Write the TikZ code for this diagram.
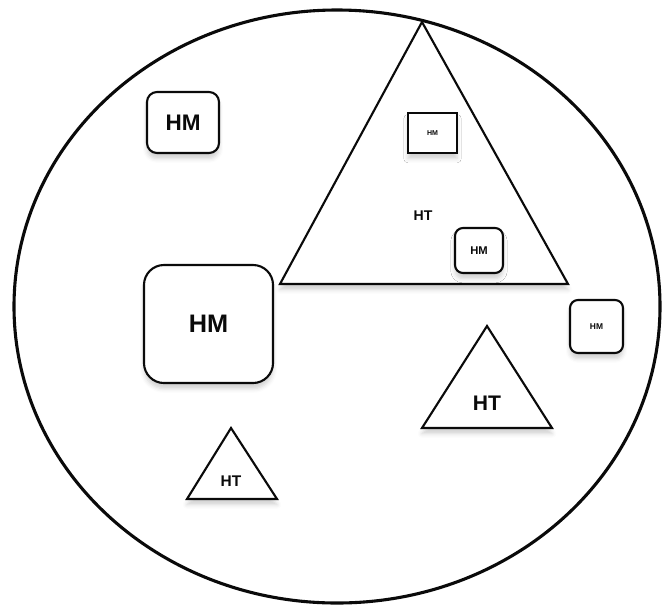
\documentclass[tikz,border=0pt]{standalone}
\usepackage{fontspec}
\setmainfont{Liberation Sans}
\usetikzlibrary{shadows.blur}
\definecolor{Ink}{RGB}{10,10,10}
\tikzset{
  set/.style={draw=Ink,line width=2.2pt},
  hm/.style={draw=Ink,line width=1.5pt,fill=white,rounded corners=0.25cm,inner sep=0pt,text=Ink,
    blur shadow={shadow xshift=0pt,shadow yshift=-4pt,shadow blur radius=3pt,shadow opacity=18}},
  hmsq/.style={hm,rounded corners=0pt},
  ht/.style={draw=Ink,line width=1.5pt,fill=white,line join=miter,
    blur shadow={shadow xshift=0pt,shadow yshift=-4pt,shadow blur radius=3pt,shadow opacity=18}},
  tag/.style={text=Ink,inner sep=0pt}
}
\begin{document}
\begin{tikzpicture}[x=0.025cm,y=-0.025cm]
  \useasboundingbox (0,0) rectangle (668,606);
  \draw[set] (337,306.5) ellipse [x radius=323,y radius=296.5];
  % triangles
  \draw[ht] (422,22) -- (280,284) -- (568,284) -- cycle;
  \node[tag,font=\bfseries\fontsize{10}{10}\selectfont] (htbig) at (423,216) {HT};
  \draw[ht] (487,326) -- (422,428) -- (552,428) -- cycle;
  \node[tag,font=\bfseries\fontsize{15}{15}\selectfont] (htmid) at (487,403) {HT};
  \draw[ht] (231,428) -- (187,499) -- (277,499) -- cycle;
  \node[tag,font=\bfseries\fontsize{11}{11}\selectfont] (htsmall) at (231,481) {HT};
  % boxes
  \node[hm,minimum width=1.8cm,minimum height=1.525cm,font=\bfseries\fontsize{16}{16}\selectfont] (hmtop) at (183,122.5) {HM};
  \node[hmsq,minimum width=1.225cm,minimum height=1.0cm,font=\bfseries\fontsize{5}{5}\selectfont] (hmsq) at (432.5,133) {HM};
  \node[hm,rounded corners=0.2cm,minimum width=1.2cm,minimum height=1.125cm,font=\bfseries\fontsize{8}{8}\selectfont] (hmin) at (479,250.5) {HM};
  \node[hm,rounded corners=0.5cm,minimum width=3.225cm,minimum height=2.95cm,font=\bfseries\fontsize{18}{18}\selectfont] (hmbig) at (208.5,324) {HM};
  \node[hm,rounded corners=0.2cm,minimum width=1.325cm,minimum height=1.325cm,font=\bfseries\fontsize{6}{6}\selectfont] (hmright) at (596.5,326.5) {HM};
\end{tikzpicture}
\end{document}
